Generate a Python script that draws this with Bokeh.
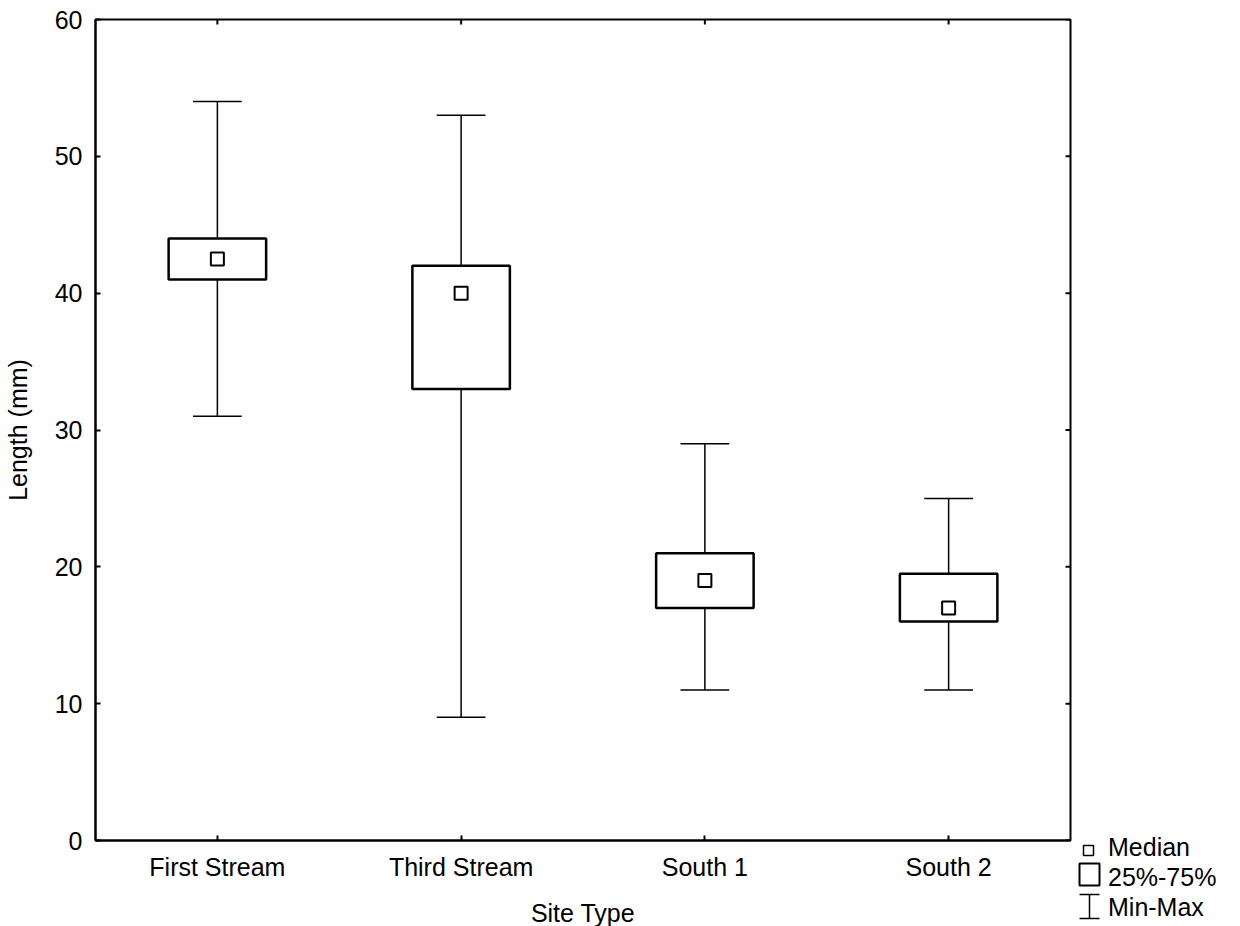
from bokeh.plotting import figure
from bokeh.models import Range1d, FixedTicker, ColumnDataSource, Legend, LegendItem
from bokeh.embed import file_html
from bokeh.resources import INLINE

sites = ["First Stream", "Third Stream", "South 1", "South 2"]
mins = [31, 9, 11, 11]
q1 = [41, 33, 17, 16]
medians = [42.5, 40, 19, 17]
q3 = [44, 42, 21, 19.5]
maxs = [54, 53, 29, 25]
y_ticks = [0, 10, 20, 30, 40, 50, 60]

legend_labels = ["Median", "25%-75%", "Min-Max"]

FONT = "Liberation Sans"
FS = "25px"

# frame geometry in pixels
FL, FR, FT, FB = 95, 1070, 19, 840

xpos = list(range(1, len(sites) + 1))
BOX_W = 0.4
CAP_W = 0.2

src = ColumnDataSource(dict(
    x=xpos, mn=mins, q1=q1, med=medians, q3=q3, mx=maxs,
    cl=[x - CAP_W / 2 for x in xpos], cr=[x + CAP_W / 2 for x in xpos],
))

p = figure(x_range=Range1d(0.5, len(sites) + 0.5), y_range=Range1d(0, 60),
           frame_width=FR - FL, frame_height=FB - FT,
           min_border_left=FL, min_border_right=1240 - FR, min_border_top=FT,
           min_border_bottom=926 - FB,
           output_backend="svg", toolbar_location=None,
           x_axis_label="Site Type", y_axis_label="Length (mm)")
p.background_fill_color = "white"
p.border_fill_color = "white"
p.xgrid.visible = False
p.ygrid.visible = False
p.outline_line_color = "black"
p.outline_line_width = 2

# pixel ranges for decorations (ticks on top/right, legend icons)
p.extra_x_ranges = {"px": Range1d(FL, FR)}
p.extra_y_ranges = {"py": Range1d(FB, FT)}

# whisker stems
p.segment(x0="x", y0="mn", x1="x", y1="q1", source=src, line_color="black", line_width=1.5)
p.segment(x0="x", y0="q3", x1="x", y1="mx", source=src, line_color="black", line_width=1.5)
# caps
p.segment(x0="cl", y0="mn", x1="cr", y1="mn", source=src, line_color="black", line_width=1.5)
p.segment(x0="cl", y0="mx", x1="cr", y1="mx", source=src, line_color="black", line_width=1.5)
# boxes
p.vbar(x="x", width=BOX_W, bottom="q1", top="q3", source=src,
       fill_color="white", line_color="black", line_width=2.5)
# medians
p.scatter(x="x", y="med", source=src, marker="square", size=13,
          fill_color="white", line_color="black", line_width=2)

# inward ticks on top and right edges
p.segment(x0=xpos, x1=xpos, y0=[FT] * len(xpos), y1=[FT + 5] * len(xpos),
          y_range_name="py", line_color="black", line_width=2)
p.segment(x0=[FR - 5] * len(y_ticks), x1=[FR] * len(y_ticks), y0=y_ticks, y1=y_ticks,
          x_range_name="px", line_color="black", line_width=2)

for ax in [p.xaxis[0], p.yaxis[0]]:
    ax.axis_line_color = "black"
    ax.axis_line_width = 2
    ax.major_tick_in = 5
    ax.major_tick_out = 0
    ax.major_tick_line_width = 2
    ax.minor_tick_line_color = None
    ax.major_label_text_font = FONT
    ax.major_label_text_font_size = FS
    ax.major_label_text_color = "black"
    ax.axis_label_text_font = FONT
    ax.axis_label_text_font_size = FS
    ax.axis_label_text_font_style = "normal"
    ax.axis_label_text_color = "black"

p.xaxis[0].ticker = FixedTicker(ticks=xpos, minor_ticks=[])
p.xaxis[0].major_label_overrides = {x: s for x, s in zip(xpos, sites)}
p.yaxis[0].ticker = FixedTicker(ticks=y_ticks, minor_ticks=[])
p.yaxis[0].major_label_standoff = 13
p.yaxis[0].axis_label_standoff = 20
p.xaxis[0].major_label_standoff = 12
p.xaxis[0].axis_label_standoff = 15

# legend icons (outside the frame, pixel coordinates)
p.rect(x=[1088], y=[850], width=10, height=10, fill_color="white",
       line_color="black", line_width=1.5, x_range_name="px", y_range_name="py",
       level="overlay")
p.rect(x=[1089], y=[874], width=20, height=22, fill_color="white",
       line_color="black", line_width=2, x_range_name="px", y_range_name="py",
       level="overlay")
p.segment(x0=[1089, 1079, 1079], y0=[894, 894, 918], x1=[1089, 1099, 1099],
          y1=[918, 894, 918], line_color="black", line_width=1.5,
          x_range_name="px", y_range_name="py", level="overlay")

# legend texts in the right side panel (icons of the dummy renderer are invisible)
dummy = p.scatter(x=[], y=[], alpha=0)
items = [LegendItem(label=t, renderers=[dummy]) for t in legend_labels]
legend = Legend(items=items, location=(1083 - FR, FB - 922),
                glyph_width=20, glyph_height=30, label_height=30, label_standoff=5,
                spacing=0, padding=0, margin=0,
                border_line_color=None, background_fill_alpha=0,
                label_text_font=FONT, label_text_font_size=FS, label_text_color="black")
p.add_layout(legend, "right")

open("out.html", "w").write(file_html(p, INLINE))
